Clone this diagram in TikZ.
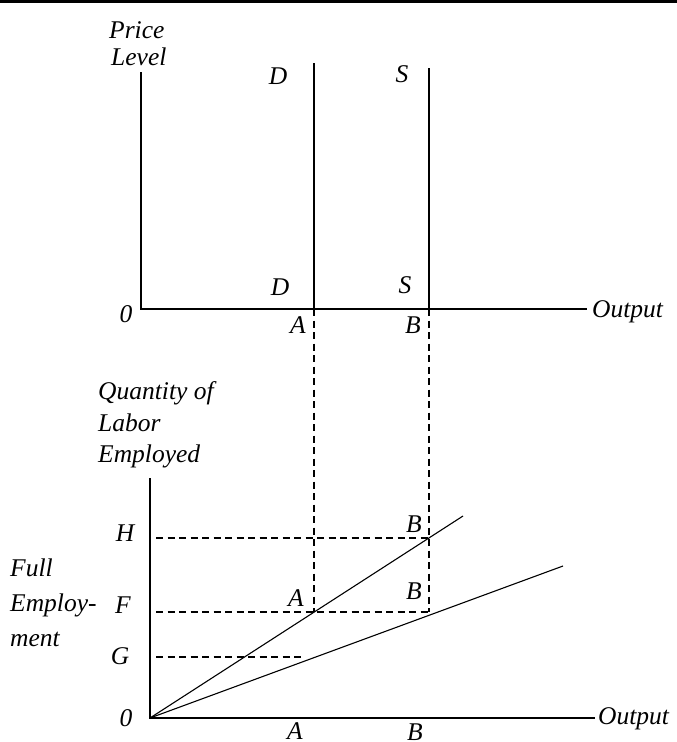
\documentclass[tikz,border=0pt]{standalone}
\usepackage{fontspec}
\setmainfont{Liberation Serif}
\usetikzlibrary{positioning}

\tikzset{
  axis/.style={line width=1.1pt},
  guide/.style={line width=1.3pt, dash pattern=on 7pt off 4.5pt},
  lbl/.style={font=\fontsize{25.5}{30}\selectfont\itshape, inner sep=0pt, anchor=base},
}

\begin{document}
\begin{tikzpicture}[x=1pt, y=-1pt]
\useasboundingbox (0,0) rectangle (677,742);

% top rule
\coordinate (RuleL) at (0,1.5);
\coordinate (RuleR) at (677,1.5);
\draw[line width=3pt] (RuleL) -- (RuleR);

% upper panel
\coordinate (O1) at (141,309);
\coordinate (Ytop1) at (141,72);
\coordinate (Xend1) at (587,309);
\coordinate (Dtop) at (314,63);
\coordinate (Dbot) at (314,309);
\coordinate (Stop) at (429,68);
\coordinate (Sbot) at (429,309);

\draw[axis] (Ytop1) -- (O1) -- (Xend1);
\draw[axis] (Dtop) -- (Dbot);
\draw[axis] (Stop) -- (Sbot);

% lower panel
\coordinate (O2) at (150,718);
\coordinate (Ytop2) at (150,478);
\coordinate (Xend2) at (595,718);
\coordinate (Steep) at (463,516);
\coordinate (Flat) at (563,566);
\coordinate (Apt) at (314,612);
\coordinate (Bpt) at (429,612);
\coordinate (Hpt) at (429,538);
\coordinate (Hax) at (156,538);
\coordinate (Fax) at (156,612);
\coordinate (Gax) at (156,657);
\coordinate (Gend) at (302,657);

\draw[axis] (Ytop2) -- (O2) -- (Xend2);
\draw[axis] (O2) -- (Steep);
\draw[axis] (O2) -- (Flat);

% guides
\draw[guide] (Dbot) -- (Apt);
\draw[guide] (Sbot) -- (Bpt);
\draw[guide] (Hax) -- (Hpt);
\draw[guide] (Fax) -- (Bpt);
\draw[guide] (Gax) -- (Gend);

% labels, upper panel
\node[lbl, anchor=base west] (price) at (109,38) {Price};
\node[lbl, anchor=base west] (level) at (111,65) {Level};
\node[lbl] (Dhi) at (278,84) {D};
\node[lbl] (Shi) at (402,82) {S};
\node[lbl] (Dlo) at (280,295) {D};
\node[lbl] (Slo) at (405,293) {S};
\node[lbl] (zero1) at (126,322) {0};
\node[lbl] (A1) at (298,333) {A};
\node[lbl] (B1) at (413,333) {B};
\node[lbl, anchor=base west] (out1) at (592,317) {Output};

% labels, lower panel
\node[lbl, anchor=base west] (qty) at (98,399) {Quantity of};
\node[lbl, anchor=base west] (labor) at (98,431) {Labor};
\node[lbl, anchor=base west] (empl) at (98,462) {Employed};
\node[lbl] (H) at (125,541) {H};
\node[lbl] (F) at (123,613) {F};
\node[lbl] (G) at (120,664) {G};
\node[lbl, anchor=base west] (full) at (10,576) {Full};
\node[lbl, anchor=base west] (employ) at (10,611) {Employ-};
\node[lbl, anchor=base west] (ment) at (10,646) {ment};
\node[lbl] (zero2) at (126,726) {0};
\node[lbl] (A2) at (296,606) {A};
\node[lbl] (B2) at (414,599) {B};
\node[lbl] (B3) at (414,532) {B};
\node[lbl] (A3) at (295,739) {A};
\node[lbl] (B4) at (415,740) {B};
\node[lbl, anchor=base west] (out2) at (598,724) {Output};
\end{tikzpicture}
\end{document}
